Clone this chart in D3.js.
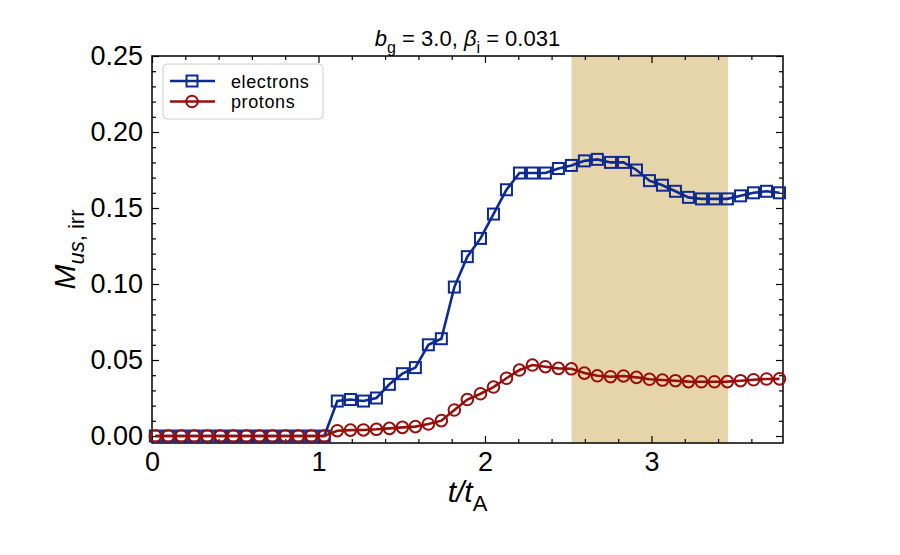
<!DOCTYPE html>
<html>
<head>
<meta charset="utf-8">
<script src="https://cdn.jsdelivr.net/npm/d3@7"></script>
<style>
  body { margin: 0; background: #fff; }
  svg { font-family: "Liberation Sans", Arial, sans-serif; }
  .tick text { font-size: 27px; fill: #000; }
  .domain { display: none; }
</style>
</head>
<body>
<svg id="chart" width="900" height="555"></svg>
<script>
// output times t/t_A
const times = [0.020, 0.098, 0.176, 0.254, 0.332, 0.411, 0.489, 0.567, 0.645, 0.723,
  0.801, 0.879, 0.957, 1.035, 1.113, 1.192, 1.270, 1.348, 1.426, 1.504,
  1.582, 1.660, 1.738, 1.816, 1.894, 1.973, 2.051, 2.129, 2.207, 2.285,
  2.363, 2.441, 2.519, 2.597, 2.675, 2.754, 2.832, 2.910, 2.988, 3.066,
  3.144, 3.222, 3.300, 3.378, 3.456, 3.535, 3.613, 3.691, 3.769];

const electrons = [0, 0, 0, 0, 0, 0, 0, 0, 0, 0, 0, 0, 0, 0,
  0.023, 0.024, 0.023, 0.025, 0.034, 0.041, 0.045, 0.060, 0.064, 0.098,
  0.118, 0.130, 0.146, 0.162, 0.173, 0.173, 0.173, 0.176, 0.178, 0.181,
  0.182, 0.180, 0.180, 0.175, 0.168, 0.165, 0.161, 0.157, 0.156, 0.156,
  0.156, 0.158, 0.160, 0.161, 0.160];

const protons = [0, 0, 0, 0, 0, 0, 0, 0, 0, 0, 0, 0, 0, 0,
  0.0035, 0.0039, 0.0040, 0.0044, 0.0050, 0.0057, 0.0062, 0.0079, 0.0101, 0.0171,
  0.0240, 0.0278, 0.0322, 0.0380, 0.0434, 0.0467, 0.0456, 0.0445, 0.0442, 0.0414,
  0.0396, 0.0390, 0.0395, 0.0386, 0.0373, 0.0368, 0.0364, 0.0358, 0.0357, 0.0357,
  0.0358, 0.0364, 0.0370, 0.0375, 0.0376];

const band = [2.52, 3.46];
const xTicks = [0, 1, 2, 3];
const yTicks = [0, 0.05, 0.10, 0.15, 0.20, 0.25];

const svg = d3.select("#chart");
const pLeft = 152, pRight = 783, pTop = 56, pBottom = 443;

const x = d3.scaleLinear().domain([0, 3.79]).range([pLeft, pRight]);
const y = d3.scaleLinear().domain([-0.0046, 0.25]).range([pBottom, pTop]);

// shaded interval
svg.append("rect")
  .attr("x", x(band[0])).attr("y", pTop)
  .attr("width", x(band[1]) - x(band[0])).attr("height", pBottom - pTop)
  .attr("fill", "#e6d5aa");

const xMinor = d3.range(0, 3.8, 0.2).filter(v => Math.abs(v - Math.round(v)) > 1e-6);
const yMinor = d3.range(0, 0.251, 0.01).filter(v => Math.abs(v * 20 - Math.round(v * 20)) > 1e-6);

function addAxis(axis, tx, ty) {
  const g = svg.append("g").attr("transform", `translate(${tx},${ty})`).call(axis);
  g.selectAll(".tick line").attr("stroke", "#000").attr("stroke-width", 1.2);
  return g;
}

// major + minor ticks, pointing inward, all four sides
addAxis(d3.axisBottom(x).tickValues(xTicks).tickFormat(d3.format("d")).tickSize(-7).tickPadding(9), 0, pBottom);
addAxis(d3.axisBottom(x).tickValues(xMinor).tickFormat("").tickSize(-4), 0, pBottom);
addAxis(d3.axisTop(x).tickValues(xTicks).tickFormat("").tickSize(-7), 0, pTop);
addAxis(d3.axisTop(x).tickValues(xMinor).tickFormat("").tickSize(-4), 0, pTop);
addAxis(d3.axisLeft(y).tickValues(yTicks).tickFormat(d3.format(".2f")).tickSize(-7).tickPadding(9), pLeft, 0);
addAxis(d3.axisLeft(y).tickValues(yMinor).tickFormat("").tickSize(-4), pLeft, 0);
addAxis(d3.axisRight(y).tickValues(yTicks).tickFormat("").tickSize(-7), pRight, 0);
addAxis(d3.axisRight(y).tickValues(yMinor).tickFormat("").tickSize(-4), pRight, 0);

// frame
svg.append("rect")
  .attr("x", pLeft).attr("y", pTop)
  .attr("width", pRight - pLeft).attr("height", pBottom - pTop)
  .attr("fill", "none").attr("stroke", "#000").attr("stroke-width", 1.5);

const series = [
  { name: "electrons", values: electrons, color: "#0c2a92", marker: "square" },
  { name: "protons", values: protons, color: "#980e0a", marker: "circle" }
];

const line = d3.line().x((d, i) => x(times[i])).y(d => y(d));

function drawMarker(g, s, cx, cy) {
  if (s.marker === "square") {
    g.append("rect")
      .attr("x", cx - 5.5).attr("y", cy - 5.5)
      .attr("width", 11).attr("height", 11)
      .attr("fill", "none").attr("stroke", s.color).attr("stroke-width", 2);
  } else {
    g.append("circle")
      .attr("cx", cx).attr("cy", cy).attr("r", 5.8)
      .attr("fill", "none").attr("stroke", s.color).attr("stroke-width", 2);
  }
}

series.forEach(s => {
  svg.append("path")
    .datum(s.values)
    .attr("d", line)
    .attr("fill", "none")
    .attr("stroke", s.color)
    .attr("stroke-width", 2.6);
  const g = svg.append("g");
  s.values.forEach((v, i) => drawMarker(g, s, x(times[i]), y(v)));
});

// legend
const lg = svg.append("g");
lg.append("rect")
  .attr("x", 163).attr("y", 64).attr("width", 160).attr("height", 55)
  .attr("rx", 4).attr("fill", "#fff").attr("fill-opacity", 0.85)
  .attr("stroke", "#cfcfcf").attr("stroke-width", 1);
series.forEach((s, i) => {
  const ly = 81 + i * 20.5;
  lg.append("line")
    .attr("x1", 170).attr("x2", 215).attr("y1", ly).attr("y2", ly)
    .attr("stroke", s.color).attr("stroke-width", 2.6);
  drawMarker(lg, s, 192, ly);
  lg.append("text")
    .attr("x", 231).attr("y", ly + 6.5)
    .attr("font-size", 18)
    .attr("letter-spacing", 0.6)
    .text(s.name);
});

// title
const title = svg.append("text")
  .attr("x", (pLeft + pRight) / 2).attr("y", 46)
  .attr("text-anchor", "middle")
  .attr("font-size", 22);
title.append("tspan").attr("font-style", "italic").text("b");
title.append("tspan").attr("font-size", 16).attr("dy", 7).text("g");
title.append("tspan").attr("dy", -7).text(" = 3.0, ");
title.append("tspan").attr("font-style", "italic").text("β");
title.append("tspan").attr("font-size", 16).attr("dy", 7).text("i");
title.append("tspan").attr("dy", -7).text(" = 0.031");

// x label
const xl = svg.append("text")
  .attr("x", (pLeft + pRight) / 2).attr("y", 502)
  .attr("text-anchor", "middle")
  .attr("font-size", 30);
xl.append("tspan").attr("font-style", "italic").text("t/t");
xl.append("tspan").attr("font-size", 22).attr("dy", 9).text("A");

// y label
const yl = svg.append("text")
  .attr("transform", `translate(75,${(pTop + pBottom) / 2}) rotate(-90)`)
  .attr("text-anchor", "middle")
  .attr("font-size", 30);
yl.append("tspan").attr("font-style", "italic").text("M");
yl.append("tspan").attr("font-size", 22).attr("dy", 9).attr("font-style", "italic").text("us");
yl.append("tspan").attr("font-size", 22).text(", irr");
</script>
</body>
</html>
